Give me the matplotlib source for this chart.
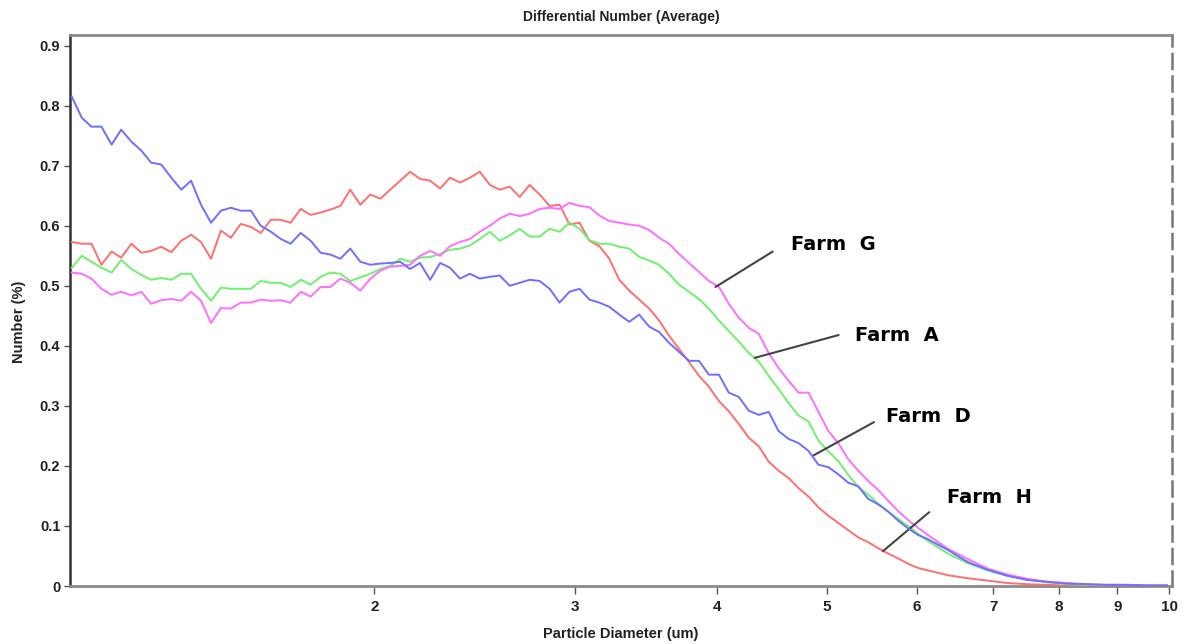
import numpy as np
import matplotlib
matplotlib.use('Agg')
import matplotlib.pyplot as plt
from matplotlib.ticker import NullFormatter, NullLocator

# particle diameter channels (um), shared by all four farms
diameter = [
    1.084, 1.106, 1.128, 1.151, 1.175, 1.198, 1.223, 1.248, 1.273, 1.299,
    1.326, 1.353, 1.380, 1.408, 1.437, 1.466, 1.496, 1.526, 1.558, 1.589,
    1.622, 1.655, 1.688, 1.723, 1.758, 1.794, 1.830, 1.867, 1.905, 1.944,
    1.984, 2.024, 2.065, 2.108, 2.150, 2.194, 2.239, 2.285, 2.331, 2.379,
    2.427, 2.476, 2.527, 2.578, 2.631, 2.684, 2.739, 2.795, 2.852, 2.910,
    2.969, 3.030, 3.091, 3.154, 3.218, 3.284, 3.351, 3.419, 3.489, 3.560,
    3.632, 3.706, 3.782, 3.859, 3.937, 4.018, 4.099, 4.183, 4.268, 4.355,
    4.444, 4.534, 4.626, 4.721, 4.817, 4.915, 5.015, 5.117, 5.221, 5.328,
    5.436, 5.547, 5.660, 5.775, 5.893, 6.013, 6.135, 6.388, 6.650, 6.924,
    7.209, 7.506, 7.815, 8.136, 8.471, 8.820, 9.183, 9.560, 9.954,
]

farm_d = [
    0.815, 0.780, 0.765, 0.765, 0.735, 0.760, 0.740, 0.725, 0.705, 0.702,
    0.680, 0.660, 0.675, 0.635, 0.605, 0.625, 0.630, 0.625, 0.625, 0.600,
    0.590, 0.578, 0.570, 0.588, 0.575, 0.555, 0.552, 0.545, 0.562, 0.540,
    0.535, 0.537, 0.538, 0.540, 0.528, 0.538, 0.510, 0.538, 0.530, 0.512,
    0.520, 0.512, 0.515, 0.517, 0.500, 0.505, 0.510, 0.508, 0.495, 0.472,
    0.490, 0.495, 0.477, 0.472, 0.465, 0.452, 0.440, 0.452, 0.432, 0.423,
    0.405, 0.390, 0.375, 0.375, 0.352, 0.352, 0.322, 0.315, 0.292, 0.285,
    0.290, 0.258, 0.245, 0.238, 0.225, 0.202, 0.198, 0.186, 0.172, 0.166,
    0.145, 0.136, 0.124, 0.109, 0.096, 0.085, 0.078, 0.060, 0.040, 0.027,
    0.017, 0.010, 0.007, 0.004, 0.003, 0.002, 0.002, 0.001, 0.001,
]

farm_h = [
    0.573, 0.570, 0.570, 0.535, 0.557, 0.547, 0.570, 0.555, 0.558, 0.565,
    0.556, 0.575, 0.585, 0.573, 0.545, 0.592, 0.580, 0.603, 0.598, 0.588,
    0.610, 0.610, 0.605, 0.628, 0.618, 0.622, 0.627, 0.633, 0.660, 0.635,
    0.652, 0.645, 0.660, 0.675, 0.690, 0.678, 0.675, 0.662, 0.680, 0.672,
    0.680, 0.690, 0.668, 0.660, 0.665, 0.648, 0.668, 0.652, 0.633, 0.635,
    0.602, 0.605, 0.575, 0.566, 0.545, 0.510, 0.492, 0.477, 0.462, 0.442,
    0.417, 0.395, 0.373, 0.350, 0.332, 0.308, 0.291, 0.270, 0.247, 0.233,
    0.207, 0.192, 0.180, 0.163, 0.149, 0.131, 0.117, 0.105, 0.093, 0.081,
    0.073, 0.063, 0.054, 0.046, 0.037, 0.030, 0.026, 0.018, 0.013, 0.009,
    0.005, 0.003, 0.002, 0.001, 0.001, 0.001, 0.000, 0.000, 0.000,
]

farm_a = [
    0.530, 0.550, 0.540, 0.530, 0.522, 0.543, 0.528, 0.518, 0.510, 0.513,
    0.510, 0.520, 0.520, 0.495, 0.475, 0.497, 0.495, 0.495, 0.495, 0.508,
    0.505, 0.505, 0.498, 0.510, 0.502, 0.515, 0.522, 0.520, 0.508, 0.514,
    0.520, 0.528, 0.533, 0.545, 0.540, 0.547, 0.548, 0.553, 0.560, 0.562,
    0.567, 0.578, 0.590, 0.575, 0.584, 0.595, 0.582, 0.582, 0.595, 0.590,
    0.605, 0.595, 0.576, 0.570, 0.570, 0.565, 0.562, 0.548, 0.542, 0.535,
    0.520, 0.502, 0.490, 0.478, 0.462, 0.442, 0.425, 0.407, 0.388, 0.374,
    0.350, 0.328, 0.305, 0.284, 0.274, 0.242, 0.224, 0.208, 0.185, 0.165,
    0.152, 0.137, 0.124, 0.112, 0.100, 0.087, 0.075, 0.054, 0.038, 0.026,
    0.017, 0.011, 0.006, 0.003, 0.002, 0.001, 0.001, 0.001, 0.001,
]

farm_g = [
    0.522, 0.520, 0.512, 0.495, 0.485, 0.490, 0.484, 0.490, 0.470, 0.476,
    0.478, 0.475, 0.490, 0.475, 0.438, 0.463, 0.462, 0.472, 0.472, 0.477,
    0.475, 0.476, 0.472, 0.490, 0.482, 0.498, 0.498, 0.512, 0.505, 0.492,
    0.512, 0.525, 0.532, 0.533, 0.535, 0.550, 0.558, 0.550, 0.566, 0.573,
    0.578, 0.590, 0.600, 0.612, 0.620, 0.616, 0.620, 0.628, 0.630, 0.628,
    0.638, 0.633, 0.631, 0.617, 0.608, 0.605, 0.602, 0.600, 0.593, 0.580,
    0.570, 0.553, 0.538, 0.523, 0.508, 0.498, 0.470, 0.447, 0.430, 0.420,
    0.388, 0.363, 0.342, 0.322, 0.322, 0.290, 0.258, 0.238, 0.211, 0.192,
    0.175, 0.160, 0.142, 0.125, 0.110, 0.097, 0.085, 0.062, 0.045, 0.029,
    0.019, 0.012, 0.007, 0.005, 0.003, 0.002, 0.002, 0.001, 0.001,
]

x_ticks = [2, 3, 4, 5, 6, 7, 8, 9, 10]
y_ticks = [0, 0.1, 0.2, 0.3, 0.4, 0.5, 0.6, 0.7, 0.8, 0.9]

# label text, (line start on curve), (line end), (text anchor)
labels = [
    ('Farm  G', (3.99, 0.498), (4.48, 0.557), (4.65, 0.568)),
    ('Farm  A', (4.32, 0.380), (5.12, 0.418), (5.29, 0.418)),
    ('Farm  D', (4.86, 0.217), (5.50, 0.273), (5.64, 0.283)),
    ('Farm  H', (5.60, 0.058), (6.15, 0.123), (6.38, 0.148)),
]


def main():
    plt.rcParams['font.family'] = ['Liberation Sans', 'DejaVu Sans']
    fig = plt.figure(figsize=(11.86, 6.44), dpi=100)
    ax = fig.add_axes([0.059, 0.09, 0.929, 0.856])

    ax.plot(diameter, farm_h, color='#ff6f6f', lw=1.4, zorder=3)
    ax.plot(diameter, farm_a, color='#6ff06f', lw=1.4, zorder=3)
    ax.plot(diameter, farm_g, color='#ff6fff', lw=1.4, zorder=3)
    ax.plot(diameter, farm_d, color='#6f6fff', lw=1.4, zorder=4)

    ax.set_xscale('log')
    ax.set_xlim(1.08, 10.05)
    ax.set_ylim(0, 0.918)
    ax.xaxis.set_minor_locator(NullLocator())
    ax.xaxis.set_minor_formatter(NullFormatter())
    ax.set_xticks(x_ticks)
    ax.set_xticklabels([str(t) for t in x_ticks], fontsize=11, fontweight='bold', color='#222222')
    ax.set_yticks(y_ticks)
    ax.set_yticklabels(['0'] + ['%.1f' % t for t in y_ticks[1:]], fontsize=10.5, fontweight='bold', color='#222222')
    ax.tick_params(axis='y', length=4, width=1, color='#555555', pad=3)
    ax.tick_params(axis='x', length=6, width=1, color='#555555', pad=4)

    for side in ['top', 'bottom']:
        ax.spines[side].set_color('#8a8a8a')
        ax.spines[side].set_linewidth(2.0)
    ax.spines['left'].set_color('#333333')
    ax.spines['left'].set_linewidth(1.8)
    ax.spines['left'].set_linestyle((0, (2, 1)))
    ax.spines['right'].set_color('#777777')
    ax.spines['right'].set_linewidth(1.8)
    ax.spines['right'].set_linestyle((0, (6, 3)))

    ax.set_title('Differential Number (Average)', fontsize=10, fontweight='bold', color='#222222', pad=10)
    ax.set_xlabel('Particle Diameter (um)', fontsize=10.5, fontweight='bold', color='#222222')
    ax.set_ylabel('Number (%)', fontsize=10.5, fontweight='bold', color='#222222')
    ax.yaxis.set_label_coords(-0.04, 0.48)
    ax.xaxis.set_label_coords(0.5, -0.074)

    for text, start, end, pos in labels:
        ax.annotate('', xy=start, xytext=end,
                    arrowprops=dict(arrowstyle='-', color='#444444', lw=1.5, shrinkA=0, shrinkB=0))
        ax.text(pos[0], pos[1], text, fontsize=14, fontweight='bold', ha='left', va='center',
                family=['DejaVu Sans'], color='black')

    fig.savefig('out.png', dpi=100)


if __name__ == '__main__':
    main()
